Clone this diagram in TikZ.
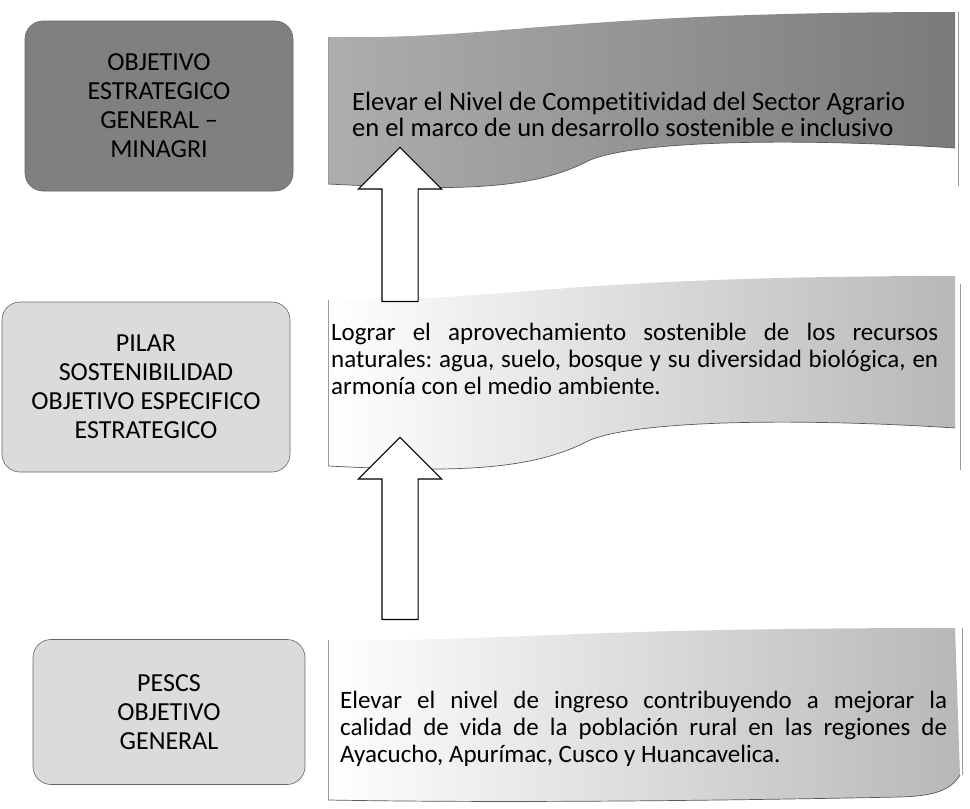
\documentclass[tikz,border=0pt]{standalone}
\usepackage{fontspec}
\setmainfont{Carlito}[Ligatures=NoCommon]
\frenchspacing
\usetikzlibrary{shapes.arrows,positioning}

\begin{document}
\begin{tikzpicture}[x=1pt, y=-1pt,
  tagbox/.style={draw=black!60, rounded corners=18pt, align=center, line width=0.6pt,
    font=\fontsize{26}{29}\selectfont},
  goaltext/.style={font=\fontsize{26.5}{26}\selectfont, align=left, inner sep=0pt},
  paratext/.style={font=\fontsize{25}{27}\selectfont, text width=607pt, align=justify, inner sep=0pt},
  rim/.style={draw=black!65, line width=0.7pt},
  uparrow/.style={single arrow, draw, fill=white, line width=1.1pt, rotate=90,
    anchor=tail, inner xsep=0pt, inner ysep=17.5pt, single arrow head extend=23.5pt,
    single arrow head indent=0pt}]
\useasboundingbox (0,0) rectangle (970,809);

% right-hand wave shapes
\shade[left color=black!32, right color=black!52]
  (328,37) .. controls (500,40) and (560,12) .. (955,12) -- (955,148)
  .. controls (800,138) and (640,140) .. (590,160)
  .. controls (530,192) and (450,190) .. (328,184) -- cycle;
\draw[rim] (328,184) .. controls (450,190) and (530,192) .. (590,160)
  .. controls (640,140) and (800,138) .. (955,148);
\draw[rim, black!40] (328,37) -- (328,184) (958,12) -- (958,186);

\shade[left color=white, middle color=white, right color=black!28]
  (328,300) .. controls (500,302) and (560,276) .. (955,276) -- (955,428)
  .. controls (800,418) and (640,420) .. (590,440)
  .. controls (530,472) and (450,472) .. (328,466) -- cycle;
\draw[rim] (328,466) .. controls (450,472) and (530,472) .. (590,440)
  .. controls (640,420) and (800,418) .. (955,428);
\draw[rim, black!40] (328,300) -- (328,466) (960,284) -- (960,470);

\shade[left color=white, middle color=white, right color=black!28]
  (328,640) .. controls (500,642) and (560,628) .. (955,628) -- (960,775)
  .. controls (950,792) and (930,796) .. (900,797)
  .. controls (700,801) and (500,803) .. (328,800) -- cycle;
\draw[rim] (328,800) .. controls (500,803) and (700,801) .. (900,797)
  .. controls (930,796) and (950,792) .. (960,775);
\draw[rim, black!40] (328,640) -- (328,800) (962,628) -- (962,775);

% left-hand labels
\node[tagbox, fill=black!50, minimum width=268pt, minimum height=170pt] (minagri) at (159,106)
  {OBJETIVO\\ESTRATEGICO\\GENERAL –\\MINAGRI};
\node[tagbox, fill=black!14, minimum width=288pt, minimum height=170pt] (pilar) at (146,387)
  {PILAR\\SOSTENIBILIDAD\\OBJETIVO ESPECIFICO\\ESTRATEGICO};
\node[tagbox, fill=black!14, minimum width=272pt, minimum height=145pt] (pescs) at (169,712)
  {PESCS\\OBJETIVO\\GENERAL};

% right-hand texts
\node[goaltext, anchor=west] (competir) at (352,114)
  {Elevar el Nivel de Competitividad del Sector Agrario\\
   en el marco de un desarrollo sostenible e inclusivo};
\node[paratext, anchor=west] (recursos) at (331,359)
  {Lograr el aprovechamiento sostenible de los recursos\linebreak
   naturales: agua, suelo, bosque y su diversidad biológica, en\linebreak
   armonía con el medio ambiente.};
\node[paratext, anchor=west] (ingreso) at (340,729)
  {Elevar el nivel de ingreso contribuyendo a mejorar la\linebreak
   calidad de vida de la población rural en las regiones de\linebreak
   Ayacucho, Apurímac, Cusco y Huancavelica.};

% block arrows
\node[uparrow, minimum height=154pt] (up1) at (400,302) {};
\node[uparrow, minimum height=182pt] (up2) at (400,620) {};
\end{tikzpicture}
\end{document}
